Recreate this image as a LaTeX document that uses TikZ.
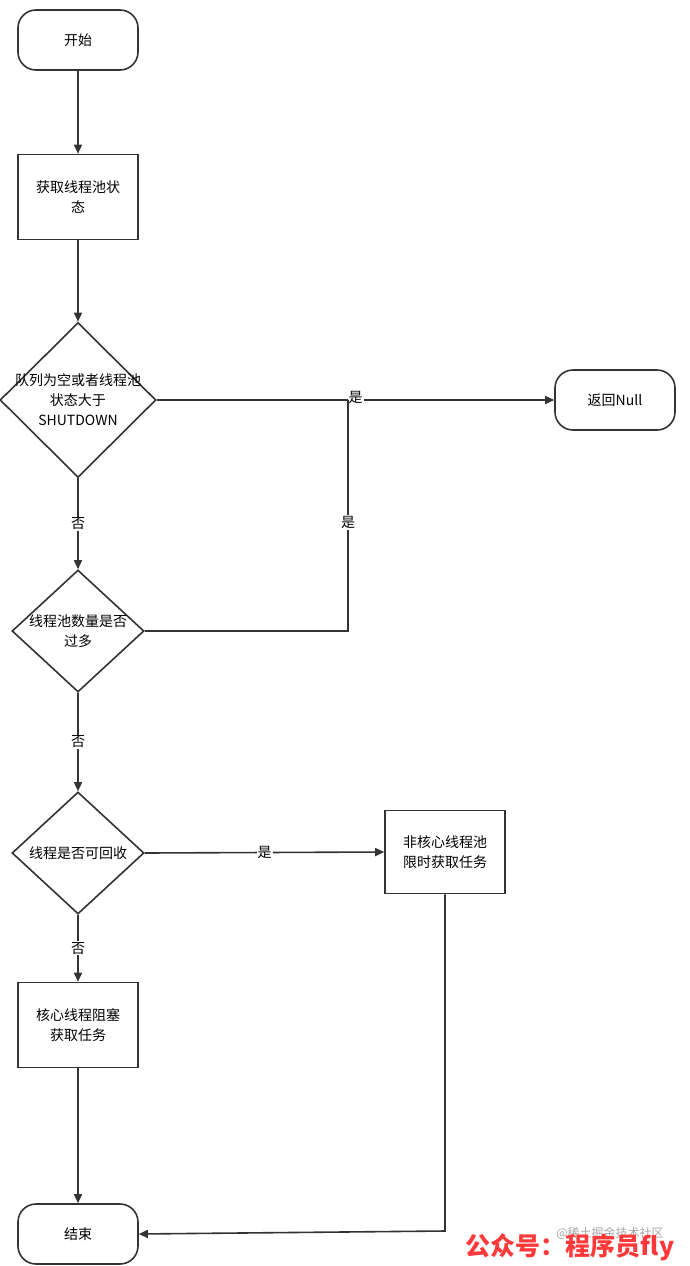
\documentclass[tikz,border=0pt]{standalone}
\usepackage{fontspec}
\setmainfont{Noto Sans CJK SC}
\usetikzlibrary{shapes.geometric,arrows.meta}
\begin{document}
\begin{tikzpicture}[x=1pt,y=-1pt,
  ln/.style={draw=black!80,line width=1.6pt},
  arr/.style={ln,-{Triangle[length=9pt,width=8pt]}},
  term/.style={ln,rounded corners=18pt,minimum width=120pt,minimum height=60pt,font=\fontsize{14}{17}\selectfont},
  box/.style={ln,minimum width=120pt,minimum height=85pt,align=center,font=\fontsize{14}{20}\selectfont},
  dia/.style={ln,diamond,align=center,font=\fontsize{14}{20}\selectfont},
  lab/.style={fill=white,inner sep=1pt,font=\fontsize{14}{17}\selectfont}]
\useasboundingbox (0,0) rectangle (690,1266);
\node[term] (start) at (78,40) {开始};
\node[box] (get) at (78,197) {获取线程池状\\态};
\node[dia,inner sep=-14pt,minimum width=156pt,minimum height=155pt] (d1) at (78,400) {队列为空或者线程池\\状态大于\\SHUTDOWN};
\node[term] (null) at (615,400) {返回Null};
\node[dia,inner sep=-8pt,minimum width=132pt,minimum height=122pt] (d2) at (78,631) {线程池数量是否\\过多};
\node[dia,inner sep=-8pt,minimum width=132pt,minimum height=122pt] (d3) at (78,853) {线程是否可回收};
\node[box,minimum height=83pt] (nc) at (445,852) {非核心线程池\\限时获取任务};
\node[box] (core) at (78,1025) {核心线程阻塞\\获取任务};
\node[term] (end) at (78,1234) {结束};
\coordinate (j) at (348,400);
\coordinate (c2) at (348,631);
\coordinate (c3) at (445,1231);
\draw[arr] (start) -- (get);
\draw[arr] (get) -- (d1);
\draw[arr] (d1.east) -- node[lab,pos=0.5,yshift=3pt]{是} (null.west);
\draw[arr] (d1) -- node[lab]{否} (d2);
\draw[ln] (d2.east) -- (c2) -- node[lab,pos=0.47]{是} (j);
\draw[arr] (d2) -- node[lab]{否} (d3);
\draw[arr] (d3.east) -- node[lab,pos=0.5]{是} (nc.west);
\draw[arr] (d3) -- node[lab]{否} (core);
\draw[arr] (core) -- (end);
\draw[arr] (nc.south) -- (c3) -- (end.east);
\node[font=\fontsize{12}{14}\selectfont,text=black!35] (wm1) at (610,1233) {@稀土掘金技术社区};
\node[font=\bfseries\fontsize{25}{28}\selectfont,text=red!70!pink] (wm) at (570,1247) {公众号：程序员fly};
\end{tikzpicture}
\end{document}
